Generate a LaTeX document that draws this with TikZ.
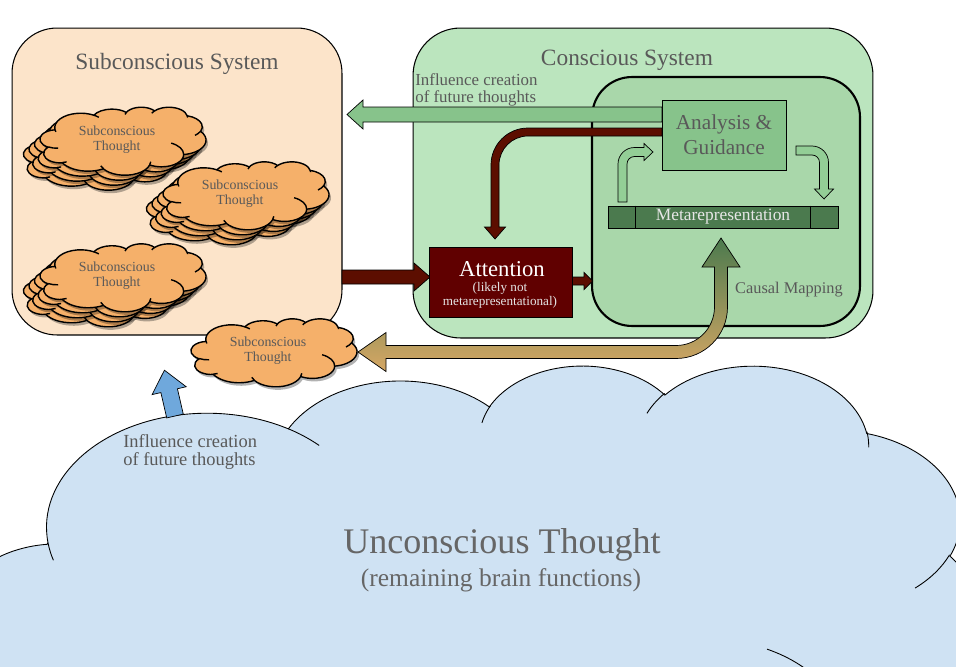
\documentclass[tikz,border=0pt]{standalone}
\usepackage{fontspec}
\setmainfont{Liberation Serif}
\usetikzlibrary{calc}

\definecolor{txtgray}{HTML}{595959}
\definecolor{unctext}{HTML}{666666}
\definecolor{subfill}{HTML}{FCE4CA}
\definecolor{confill}{HTML}{BBE5BE}
\definecolor{mapfill}{HTML}{A9D7AA}
\definecolor{anafill}{HTML}{87C38B}
\definecolor{metafill}{HTML}{4B7A4E}
\definecolor{metatext}{HTML}{E6E6E6}
\definecolor{attfill}{HTML}{600000}
\definecolor{redarrow}{HTML}{5C0E00}
\definecolor{orangefill}{HTML}{F5B06A}
\definecolor{skyfill}{HTML}{CFE2F3}
\definecolor{bluearrow}{HTML}{6FA8DC}
\definecolor{tanarrow}{HTML}{D6A764}
\definecolor{tanmid}{HTML}{B39A5E}
\definecolor{smallgreen}{HTML}{93CE96}

% one piece of the cloud outline: x radius, y radius, start angle, sweep
\newcommand\ooarc[4]{arc[x radius=#1, y radius=#2, start angle={ooang(#3,#1,#2)}, end angle={ooang(#3+#4,#1,#2)}]}

% cloud outline in a 432 x 432 box
\newcommand\cloudouter{(39.00,143.70)
  \ooarc{67.53}{91.90}{-190.4875}{123.7805}
  \ooarc{53.33}{72.67}{-144.1024}{89.9452}
  \ooarc{43.65}{59.45}{-145.8079}{99.7230}
  \ooarc{48.57}{65.95}{-130.9861}{117.2417}
  \ooarc{53.33}{72.73}{-78.7089}{109.0269}
  \ooarc{67.75}{92.20}{-46.2673}{130.2690}
  \ooarc{57.85}{78.67}{0.6250}{114.0333}
  \ooarc{67.52}{92.15}{22.4516}{115.1726}
  \ooarc{77.20}{105.43}{66.2426}{75.7110}
  \ooarc{43.60}{59.18}{-274.9421}{146.7356}
  \ooarc{43.45}{59.45}{-246.8285}{152.5189} -- cycle}

% the little curls inside the cloud
\newcommand\cloudinner{(46.93,261.77) \ooarc{43.45}{59.45}{86.742}{26.4295}
  (69.28,348.99) \ooarc{43.60}{59.18}{73.6105}{11.4475}
  (164.78,390.90) \ooarc{67.52}{92.15}{137.6242}{14.0811}
  (288.27,347.51) \ooarc{67.52}{92.15}{6.4533}{15.9984}
  (341.29,229.54) \ooarc{57.85}{78.67}{-70.2924}{70.9174}
  (417.98,153.54) \ooarc{53.33}{72.73}{30.3180}{27.7515}
  (383.24,54.26) \ooarc{48.57}{65.95}{-13.7443}{14.8589}
  (290.78,39.52) \ooarc{48.57}{65.95}{-149.1815}{18.1954}
  (221.41,47.20) \ooarc{43.65}{59.45}{-163.4943}{17.6864}
  (140.00,51.92) \ooarc{67.53}{91.90}{-66.7070}{12.3194}
  (41.27,157.89) \ooarc{67.53}{91.90}{157.6544}{11.8582}}

% orange thought cloud: x, y, width, height
\newcommand\thoughtcloud[4]{%
  \begin{scope}[shift={(#1+2,#2+3)}, xscale=#3/432, yscale=#4/432]
    \fill[black, opacity=0.3] \cloudouter;
  \end{scope}
  \begin{scope}[shift={(#1,#2)}, xscale=#3/432, yscale=#4/432]
    \filldraw[fill=orangefill, draw=black, line width=0.8pt] \cloudouter;
    \draw[line width=0.8pt] \cloudinner;
  \end{scope}}

\begin{document}
\begin{tikzpicture}[x=0.02cm, y=-0.02cm,
    declare function={ooang(\a,\rx,\ry)=\a+atan2((\rx-\ry)*sin(\a)*cos(\a),\ry*cos(\a)*cos(\a)+\rx*sin(\a)*sin(\a));},
    sysbox/.style={draw=black, line width=0.6pt, rounded corners=0.9cm, inner sep=0pt},
    plainbox/.style={draw=black, line width=0.5pt, inner sep=0pt},
    blockarrow/.style={draw=black, line width=0.4pt},
    title/.style={text=txtgray, font=\fontsize{13.3}{16}\selectfont},
    thoughttext/.style={text=txtgray, align=center, font=\fontsize{7.9}{8.6}\selectfont},
    note/.style={text=txtgray, align=left, inner sep=0pt, anchor=west}]

    \useasboundingbox (0,0) rectangle (956,666);
    \clip (0,0) rectangle (956,666);

    % unconscious thought
    \begin{scope}[shift={(-44.8,364.3)}, xscale=1027.7/432, yscale=536.1/432]
        \filldraw[fill=skyfill, draw=black, line width=0.5pt] \cloudouter;
        \draw[line width=0.5pt] \cloudinner;
    \end{scope}

    % systems
    \node[sysbox, fill=subfill, minimum width=6.6cm, minimum height=6.14cm] (sub) at (177,181.5) {};
    \node[sysbox, fill=confill, minimum width=9.2cm, minimum height=6.2cm, rounded corners=0.95cm] (con) at (643,183) {};
    \node[sysbox, fill=mapfill, line width=1.2pt, minimum width=5.36cm, minimum height=4.98cm, rounded corners=0.8cm] (map) at (726,201.5) {};

    % arrows out of analysis
    \draw[blockarrow, fill=anafill] (662,107) -- (363,107) -- (363,100) -- (347,114.5) -- (363,129) -- (363,122) -- (662,122) -- cycle;
    \draw[blockarrow, fill=redarrow] (662,128) -- (528,128) arc[start angle=-90, end angle=-180, radius=37]
        -- (491,227) -- (484.5,227) -- (495,239) -- (505.5,227) -- (499,227)
        -- (499,165) arc[start angle=180, end angle=270, radius=29] -- (662,136) -- cycle;

    % into attention and on
    \draw[blockarrow, fill=redarrow] (342,270) -- (414,270) -- (414,263) -- (430,277) -- (414,291) -- (414,284) -- (342,284) -- cycle;
    \draw[blockarrow, fill=redarrow] (572,277) -- (584,277) -- (584,272.5) -- (592.5,281) -- (584,289.5) -- (584,285) -- (572,285) -- cycle;

    \node[plainbox, fill=anafill, minimum width=2.48cm, minimum height=1.4cm, text=txtgray, align=center, font=\fontsize{12.1}{14.2}\selectfont] (ana) at (724,135) {Analysis \&\\Guidance};
    \node[plainbox, fill=metafill, minimum width=4.6cm, minimum height=0.44cm, text=metatext, font=\fontsize{9.9}{10}\selectfont] (meta) at (723,217) {Metarepresentation};
    \draw[line width=0.5pt] ($(meta.north west)!0.122!(meta.north east)$) -- ($(meta.south west)!0.122!(meta.south east)$);
    \draw[line width=0.5pt] ($(meta.north west)!0.878!(meta.north east)$) -- ($(meta.south west)!0.878!(meta.south east)$);
    \node[plainbox, fill=attfill, minimum width=2.86cm, minimum height=1.4cm] (att) at (500.5,282.5) {};
    \node[text=white, font=\fontsize{12.9}{14}\selectfont] (atttitle) at (502,269) {Attention};
    \node[text=white!90!black, align=center, font=\fontsize{7.5}{8.3}\selectfont] (attnote) at (500,295.5) {(likely not\\metarepresentational)};

    % loop between metarepresentation and analysis
    \draw[blockarrow, fill=smallgreen] (618,202) -- (618,164) arc[start angle=180, end angle=270, radius=16.5]
        -- (644,147.5) -- (644,143.5) -- (653,152) -- (644,160.5) -- (644,156.5)
        -- (634.5,156.5) arc[start angle=270, end angle=180, radius=7.5] -- (627,202) -- cycle;
    \draw[blockarrow, fill=smallgreen] (796,146) -- (812,146) arc[start angle=-90, end angle=0, radius=16.5]
        -- (828.5,189) -- (833.5,189) -- (824,199) -- (814.5,189) -- (819.5,189)
        -- (819.5,162.5) arc[start angle=0, end angle=-90, radius=7.5] -- (796,155) -- cycle;

    % subconscious thoughts
    \foreach \k in {3,2,1} {
        \thoughtcloud{40-5.5*\k}{107+5*\k}{166}{68}
        \thoughtcloud{163-5.5*\k}{161.6+5*\k}{166}{68}
        \thoughtcloud{40-5.5*\k}{243.6+5*\k}{166}{68}
    }
    \thoughtcloud{40}{107}{166}{68}
    \thoughtcloud{163}{161.6}{166}{68}
    \thoughtcloud{40}{243.6}{166}{68}
    \thoughtcloud{191}{318.6}{166}{68}
    \node[thoughttext] (st1) at (117,139.5) {Subconscious\\Thought};
    \node[thoughttext] (st2) at (240,194) {Subconscious\\Thought};
    \node[thoughttext] (st3) at (117,276) {Subconscious\\Thought};
    \node[thoughttext] (st4) at (268,351) {Subconscious\\Thought};

    % causal mapping back to a new thought
    \draw[blockarrow, top color=metafill, middle color=tanmid, bottom color=tanarrow]
        (358,352) -- (386,332.5) -- (386,345.5) -- (676,345.5) arc[start angle=90, end angle=0, radius=38.5]
        -- (714.5,267) -- (702,267) -- (721,238) -- (740,267) -- (727.5,267)
        -- (727.5,307) arc[start angle=0, end angle=90, radius=51.5] -- (386,358.5) -- (386,371.5) -- cycle;

    % up from the unconscious
    \begin{scope}[shift={(175,416)}, rotate=13]
        \draw[blockarrow, fill=bluearrow] (-8.5,0) -- (-8.5,-26) -- (-17.5,-26) -- (0,-47) -- (17.5,-26) -- (8.5,-26) -- (8.5,0) -- cycle;
    \end{scope}

    % labels
    \node[title] (subtitle) at (177,64) {Subconscious System};
    \node[title] (contitle) at (627,60) {Conscious System};
    \node[note, font=\fontsize{9.6}{9.7}\selectfont] (infltop) at (415,89.5) {Influence creation\\of future thoughts};
    \node[text=txtgray, font=\fontsize{9.3}{10}\selectfont] (causal) at (789,290) {Causal Mapping};
    \node[note, font=\fontsize{10.5}{10.2}\selectfont] (inflbot) at (123,452) {Influence creation\\of future thoughts};
    \node[text=unctext, font=\fontsize{20.5}{24}\selectfont] (unc) at (502,545) {Unconscious Thought};
    \node[text=unctext, font=\fontsize{14.5}{16}\selectfont] (uncnote) at (501,580) {(remaining brain functions)};
\end{tikzpicture}
\end{document}
